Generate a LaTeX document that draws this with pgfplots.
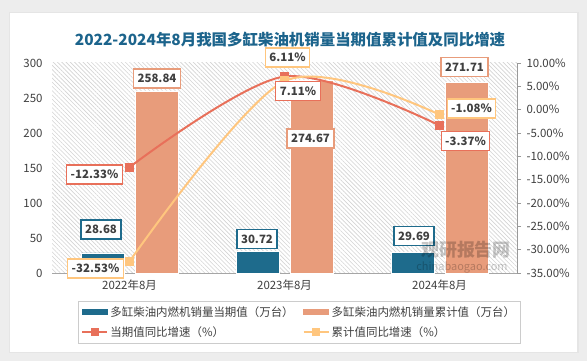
\documentclass[border=0pt]{standalone}
\usepackage{pgfplots}
\pgfplotsset{compat=1.18}
\usepackage{fontspec}
\setmainfont{Noto Sans CJK SC}
\usetikzlibrary{patterns.meta}
\definecolor{cdark}{RGB}{30,107,140}
\definecolor{clight}{RGB}{232,156,123}
\definecolor{cred}{RGB}{232,112,90}
\definecolor{cyel}{RGB}{255,198,126}
\definecolor{ctitle}{RGB}{28,100,140}
\definecolor{textgray}{RGB}{64,64,64}
\begin{document}
\begin{tikzpicture}[x=1bp,y=1bp,
  lab/.style={draw=#1, fill=white, line width=1.2bp, font=\bfseries\fontsize{11.5}{12}\selectfont, text=textgray, inner xsep=4bp, inner ysep=2bp, minimum height=19bp}]
\fill[black!7] (0,0) rectangle (587,361);
\fill[black!10] (9,8) rectangle (579,349);
\fill[white] (10,9) rectangle (577,348);
\node[font=\bfseries\fontsize{15.5}{16}\selectfont, text=ctitle] at (290,321) {2022-2024年8月我国多缸柴油机销量当期值累计值及同比增速};
\begin{axis}[at={(52bp,88bp)}, anchor=south west, scale only axis,
  width=465bp, height=210bp,
  xmin=-0.5, xmax=2.5, ymin=0, ymax=300,
  ytick={0,50,...,300}, xtick={0,1,2},
  xticklabels={2022年8月,2023年8月,2024年8月},
  axis x line*=bottom, axis y line*=left,
  y axis line style={draw=none},
  x axis line style={draw=black!35, line width=0.8bp},
  major tick length=0pt, tick style={draw=none},
  /pgf/number format/assume math mode=true,
  ticklabel style={font=\fontsize{11.5}{12}\selectfont, text=textgray},
  y tick label style={xshift=-6bp},
  x tick label style={yshift=-3bp},
  axis background/.style={pattern={Lines[angle=-45, distance=3bp, line width=0.6bp]}, pattern color=black!17},
  clip=false]
\addplot[ybar, bar width=43bp, bar shift=-27bp, fill=cdark, draw=white, line width=0.8bp] coordinates {(0,28.68)(1,30.72)(2,29.69)};
\addplot[ybar, bar width=43bp, bar shift=27bp, fill=clight, draw=white, line width=0.8bp] coordinates {(0,258.84)(1,274.67)(2,271.71)};
\end{axis}
\begin{axis}[at={(52bp,88bp)}, anchor=south west, scale only axis,
  width=465bp, height=210bp,
  xmin=-0.5, xmax=2.5, ymin=-35, ymax=10,
  ytick={-35,-30,...,10},
  axis x line=none, axis y line*=right,
  y axis line style={draw=black!40, line width=0.8bp},
  tick align=outside, major tick length=4bp,
  tick style={draw=black!40, line width=0.8bp},
  /pgf/number format/assume math mode=true,
  yticklabel={\pgfmathprintnumber[fixed,fixed zerofill,precision=2]{\tick}\%},
  ticklabel style={font=\fontsize{11.5}{12}\selectfont, text=textgray},
  y tick label style={xshift=2bp},
  legend columns=2,
  legend cell align=left,
  legend style={at={(0.0559,-0.1333)}, anchor=north west, draw=black!20, line width=0.8bp,
    font=\fontsize{11.5}{12}\selectfont, text=textgray,
    inner xsep=3bp, inner ysep=3bp, row sep=5bp,
    /tikz/every even column/.append style={column sep=7bp}},
  clip=false]
\addlegendimage{legend image code/.code={\fill[cdark] (0bp,-2.5bp) rectangle (25bp,2.5bp);}}
\addlegendentry{多缸柴油内燃机销量当期值（万台）}
\addlegendimage{legend image code/.code={\fill[clight] (0bp,-2.5bp) rectangle (25bp,2.5bp);}}
\addlegendentry{多缸柴油内燃机销量累计值（万台）}
\addlegendimage{legend image code/.code={\draw[cred, line width=2bp] (0bp,0bp) -- (25bp,0bp); \fill[cred] (9bp,-3.5bp) rectangle (16bp,3.5bp);}}
\addlegendentry{当期值同比增速（\%）}
\addlegendimage{legend image code/.code={\draw[cyel, line width=2bp] (0bp,0bp) -- (25bp,0bp); \fill[cyel] (9bp,-3.5bp) rectangle (16bp,3.5bp);}}
\addlegendentry{累计值同比增速（\%）}
\addplot[forget plot, smooth, color=cred, line width=2bp, mark=square*, mark size=3.7bp, mark options={solid}] coordinates {(0,-12.33)(1,7.11)(2,-3.37)};
\addplot[forget plot, smooth, color=cyel, line width=2bp, mark=square*, mark size=3.7bp, mark options={solid}] coordinates {(0,-32.53)(1,6.11)(2,-1.08)};
\end{axis}
% data labels
\node[lab=cdark] at (101,131.5) {28.68};
\node[lab=clight] at (157,282.5) {258.84};
\node[lab=cred] at (94.5,186.5) {-12.33\%};
\node[lab=cyel] at (95.5,92.5) {-32.53\%};
\node[lab=cdark] at (257,122) {30.72};
\node[lab=cyel] at (287.5,303.5) {6.11\%};
\node[lab=cred] at (298,270) {7.11\%};
\node[lab=clight] at (310.5,222.5) {274.67};
\node[lab=cdark] at (414,125) {29.69};
\node[lab=clight] at (464.5,294) {271.71};
\node[lab=cyel] at (471.5,252.5) {-1.08\%};
\node[lab=cred] at (465.5,220) {-3.37\%};
% watermark
\node[font=\bfseries\fontsize{18}{18}\selectfont, text=black, opacity=0.22] at (466,111) {观研报告网};
\node[font=\fontsize{11}{11}\selectfont, text=black, opacity=0.22] at (462,93) {chinabaogao.com};
\useasboundingbox (0,0) rectangle (587,361);
\end{tikzpicture}
\end{document}
